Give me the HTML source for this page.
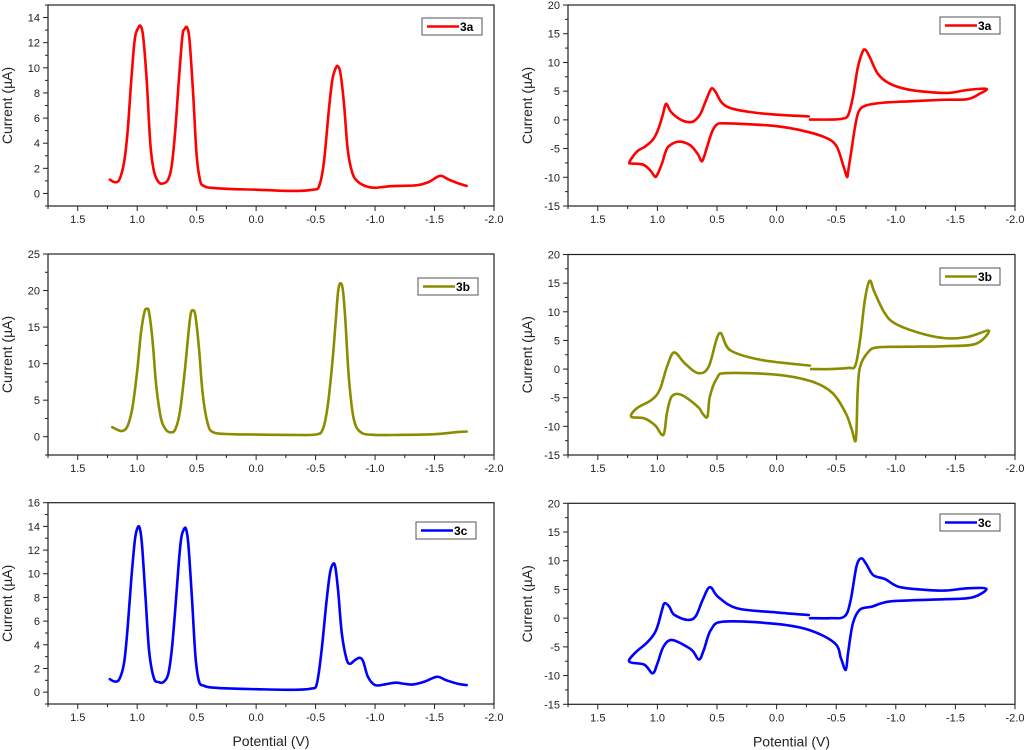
<!DOCTYPE html>
<html><head><meta charset="utf-8"><style>
html,body{margin:0;padding:0;background:#fff;}
svg{display:block;font-family:"Liberation Sans",sans-serif;}
</style></head><body>
<svg id="fig" width="1024" height="750" viewBox="0 0 1024 750"></svg>
<script>
// ---- data ----
const xTicks = [1.5,1.0,0.5,0.0,-0.5,-1.0,-1.5,-2.0];
const xTickLabels = ["1.5","1.0","0.5","0.0","-0.5","-1.0","-1.5","-2.0"];
const yTicksA = [0,2,4,6,8,10,12,14];
const yTicksB = [0,5,10,15,20,25];
const yTicksC = [0,2,4,6,8,10,12,14,16];
const yTicksCV = [-15,-10,-5,0,5,10,15,20];

const dpvA_x = [1.23,1.19,1.15,1.11,1.08,1.05,1.02,0.99,0.97,0.95,0.92,0.89,0.86,0.82,0.78,0.74,0.71,0.68,0.65,0.62,0.60,0.58,0.56,0.53,0.50,0.47,0.44,0.38,0.2,0,-0.3,-0.48,-0.53,-0.57,-0.61,-0.64,-0.67,-0.69,-0.71,-0.74,-0.77,-0.81,-0.86,-0.93,-1.0,-1.1,-1.2,-1.35,-1.45,-1.52,-1.56,-1.62,-1.7,-1.77];
const dpvA_y = [1.1,0.9,1.1,2.5,5,9,12.3,13.2,13.3,12.5,9,4,1.8,0.9,0.8,1.1,2.2,5,9,12.5,13.1,13.2,12.2,8,3,1.0,0.6,0.45,0.35,0.3,0.2,0.3,0.6,2.5,6.5,9,10,10.1,9.5,7,3.5,1.6,0.9,0.55,0.45,0.55,0.6,0.65,0.9,1.3,1.4,1.1,0.8,0.6];

const dpvB_x = [1.21,1.16,1.12,1.08,1.04,1.0,0.97,0.94,0.92,0.90,0.87,0.84,0.80,0.76,0.72,0.68,0.64,0.60,0.57,0.55,0.53,0.51,0.48,0.45,0.41,0.36,0.2,0,-0.3,-0.5,-0.56,-0.60,-0.64,-0.67,-0.69,-0.71,-0.73,-0.75,-0.78,-0.82,-0.88,-1.0,-1.2,-1.5,-1.7,-1.77];
const dpvB_y = [1.3,0.9,0.8,1.5,4,9,14,17,17.5,17,13,7,2.5,1.0,0.6,1.0,3.5,9,14,16.8,17.3,16.5,12,6,2,0.6,0.35,0.3,0.25,0.3,1,4,10,16,20,21,20,16,8,2.5,0.6,0.25,0.25,0.35,0.65,0.7];

const dpvC_x = [1.23,1.19,1.15,1.11,1.08,1.05,1.02,1.0,0.98,0.96,0.93,0.90,0.86,0.82,0.78,0.74,0.71,0.68,0.65,0.63,0.61,0.59,0.57,0.54,0.51,0.48,0.44,0.38,0.2,0,-0.3,-0.46,-0.51,-0.55,-0.59,-0.62,-0.645,-0.665,-0.69,-0.72,-0.76,-0.79,-0.83,-0.87,-0.9,-0.94,-1.0,-1.08,-1.17,-1.25,-1.32,-1.42,-1.52,-1.6,-1.7,-1.77];
const dpvC_y = [1.1,0.9,1.1,2.5,5.5,9.5,12.8,13.8,13.9,12.5,8,3.5,1.2,0.85,0.85,1.5,3.5,7,11,13,13.7,13.8,12.5,8,3,0.9,0.55,0.4,0.3,0.25,0.2,0.3,0.7,3.5,7.5,10,10.8,10.6,8.5,5,2.8,2.4,2.7,2.9,2.6,1.3,0.6,0.65,0.8,0.7,0.65,0.9,1.3,1.0,0.7,0.6];

const cvA_x = [-0.28,-0.45,-0.55,-0.6,-0.64,-0.68,-0.72,-0.745,-0.78,-0.85,-0.95,-1.1,-1.3,-1.45,-1.6,-1.76,-1.7,-1.6,-1.4,-1.1,-0.9,-0.75,-0.69,-0.66,-0.63,-0.6,-0.59,-0.56,-0.5,-0.4,-0.2,0,0.2,0.44,0.5,0.54,0.58,0.61,0.63,0.66,0.72,0.8,0.86,0.92,0.96,1.0,1.02,1.06,1.12,1.22,1.235,1.22,1.17,1.1,1.04,1.0,0.96,0.935,0.92,0.89,0.84,0.78,0.72,0.68,0.64,0.6,0.56,0.54,0.51,0.46,0.38,0.2,0,-0.27];
const cvA_y = [0.05,0.05,0.2,0.8,4,9,11.8,12.2,11,8,6.3,5.3,4.8,4.7,5.2,5.4,4.5,3.6,3.5,3.2,3.0,2.5,1.5,-1,-5,-9,-9.9,-8,-4.5,-3,-1.8,-1.1,-0.8,-0.6,-0.8,-2,-4.5,-6.5,-7.2,-6,-4.5,-3.8,-4,-5,-7.5,-9.5,-9.9,-8.8,-7.8,-7.6,-7.5,-6.8,-5.5,-4.6,-3.5,-2,0.5,2.5,2.7,1.5,0.5,-0.2,-0.4,0,1,3,5,5.5,4.8,3,2,1.3,0.9,0.6];

const cvB_x = [-0.29,-0.45,-0.6,-0.66,-0.70,-0.74,-0.78,-0.82,-0.9,-0.99,-1.2,-1.41,-1.6,-1.78,-1.67,-1.41,-1.1,-0.85,-0.77,-0.70,-0.68,-0.665,-0.63,-0.58,-0.47,-0.30,-0.01,0.42,0.50,0.56,0.58,0.62,0.66,0.80,0.88,0.92,0.95,1.02,1.11,1.22,1.17,1.05,0.98,0.92,0.86,0.77,0.66,0.57,0.48,0.39,0.13,-0.28];
const cvB_y = [0,0,0.2,0.6,5,12,15.4,13.5,10,8,6.3,5.4,5.6,6.7,4.4,4.0,3.9,3.8,3,0.4,-4,-12.3,-10.5,-7.7,-4.2,-2.2,-1.0,-0.7,-1.6,-4.8,-8.3,-7.8,-6.6,-4.5,-4.8,-7.7,-11.5,-9.8,-8.6,-8.3,-6.8,-5.4,-3.6,0.4,2.9,1.0,-0.7,0.4,6.25,3.3,1.6,0.6];

const cvC_x = [-0.28,-0.45,-0.57,-0.62,-0.67,-0.71,-0.75,-0.81,-0.91,-1.02,-1.2,-1.41,-1.6,-1.76,-1.64,-1.41,-1.0,-0.88,-0.80,-0.70,-0.64,-0.60,-0.58,-0.54,-0.49,-0.28,0.0,0.44,0.55,0.61,0.65,0.70,0.75,0.88,0.95,1.0,1.04,1.11,1.235,1.19,1.08,1.01,0.96,0.94,0.90,0.86,0.75,0.68,0.62,0.56,0.49,0.33,0.0,-0.27];
const cvC_y = [0,0,0.3,3,9,10.4,9.5,7.5,6.8,5.5,5.0,4.8,5.2,5.1,3.6,3.3,3.0,2.6,2.0,1.5,-0.9,-6,-9.0,-7,-4.4,-2.1,-1.0,-0.6,-2.0,-5.5,-7.2,-5.8,-5.0,-3.8,-5,-7.9,-9.6,-8.1,-7.6,-6.1,-4.1,-2.05,1.5,2.6,2.0,0.6,-0.3,0.3,3.2,5.4,3.7,1.7,1.0,0.55];

// ---- drawing ----
const NS = "http://www.w3.org/2000/svg";
const svg = document.getElementById('fig');
function mk(tag, attrs, parent){
  const e = document.createElementNS(NS, tag);
  for (const k in attrs) e.setAttribute(k, attrs[k]);
  (parent||svg).appendChild(e);
  return e;
}
function smoothPath(pts){
  let d = "M"+pts[0][0].toFixed(2)+","+pts[0][1].toFixed(2);
  for (let i=0;i<pts.length-1;i++){
    const p0=pts[Math.max(0,i-1)], p1=pts[i], p2=pts[i+1], p3=pts[Math.min(pts.length-1,i+2)];
    const t=6;
    const c1=[p1[0]+(p2[0]-p0[0])/t, p1[1]+(p2[1]-p0[1])/t];
    const c2=[p2[0]-(p3[0]-p1[0])/t, p2[1]-(p3[1]-p1[1])/t];
    d += "C"+c1[0].toFixed(2)+","+c1[1].toFixed(2)+" "+c2[0].toFixed(2)+","+c2[1].toFixed(2)+" "+p2[0].toFixed(2)+","+p2[1].toFixed(2);
  }
  return d;
}

const panels = [
  {id:'dpv-3a', x0:48, x1:494, y0:5, y1:206, ymin:-1, ymax:15, yt:yTicksA, minor:1, xs:dpvA_x, ys:dpvA_y, color:'#ff0000', label:'3a', lg:[422,18], xlab:false},
  {id:'cv-3a', x0:568, x1:1015, y0:5, y1:206, ymin:-15, ymax:20, yt:yTicksCV, minor:2.5, xs:cvA_x, ys:cvA_y, color:'#ff0000', label:'3a', lg:[940,17], xlab:false},
  {id:'dpv-3b', x0:48, x1:494, y0:254, y1:455, ymin:-2.5, ymax:25, yt:yTicksB, minor:2.5, xs:dpvB_x, ys:dpvB_y, color:'#8c8c00', label:'3b', lg:[418,278], xlab:false},
  {id:'cv-3b', x0:568, x1:1015, y0:254.5, y1:455, ymin:-15, ymax:20, yt:yTicksCV, minor:2.5, xs:cvB_x, ys:cvB_y, color:'#8c8c00', label:'3b', lg:[940,268], xlab:false},
  {id:'dpv-3c', x0:48, x1:494, y0:502.7, y1:704, ymin:-1, ymax:16, yt:yTicksC, minor:1, xs:dpvC_x, ys:dpvC_y, color:'#0000ff', label:'3c', lg:[416,522], xlab:true},
  {id:'cv-3c', x0:568, x1:1015, y0:503.3, y1:704.3, ymin:-15, ymax:20, yt:yTicksCV, minor:2.5, xs:cvC_x, ys:cvC_y, color:'#0000ff', label:'3c', lg:[940,514], xlab:true}
];

panels.forEach(p=>{
  const g = mk('g',{});
  
  
  const sx = v => p.x0 + (1.75 - v)/3.75*(p.x1-p.x0);
  const sy = v => p.y1 - (v - p.ymin)/(p.ymax-p.ymin)*(p.y1-p.y0);
  const frame = mk('rect',{x:p.x0,y:p.y0,width:p.x1-p.x0,height:p.y1-p.y0,fill:'none',stroke:'#222','stroke-width':1.2},g);
  
  
  // x ticks
  for (let v=1.75; v>=-2.0001; v-=0.25){
    const isMajor = Math.abs(v*2-Math.round(v*2))<1e-6;
    mk('line',{x1:sx(v),x2:sx(v),y1:p.y1,y2:p.y1+(isMajor?5:3),stroke:'#222','stroke-width':1},g);
  }
  xTicks.forEach((v,i)=>{
    const t = mk('text',{x:sx(v),y:p.y1+17,'text-anchor':'middle','font-size':11,fill:'#222'},g);
    t.textContent = xTickLabels[i];
    
    
  });
  // y ticks
  for (let v=p.ymin; v<=p.ymax+1e-6; v+=p.minor){
    const isMajor = p.yt.some(t=>Math.abs(t-v)<1e-6);
    mk('line',{x1:p.x0-(isMajor?5:3),x2:p.x0,y1:sy(v),y2:sy(v),stroke:'#222','stroke-width':1},g);
  }
  p.yt.forEach(v=>{
    const t = mk('text',{x:p.x0-8,y:sy(v)+4,'text-anchor':'end','font-size':11,fill:'#222'},g);
    t.textContent = String(v);
    
    
  });
  // y title
  const cy = (p.y0+p.y1)/2;
  const yt = mk('text',{x:p.x0-36,y:cy,'text-anchor':'middle','font-size':14,fill:'#222',transform:'rotate(-90 '+(p.x0-36)+' '+cy+')'},g);
  yt.textContent = 'Current (\u00b5A)';
  
  
  if (p.xlab){
    const xt = mk('text',{x:(p.x0+p.x1)/2,y:p.y1+42,'text-anchor':'middle','font-size':14,fill:'#222'},g);
    xt.textContent = 'Potential (V)';
    
    
  }
  // curve
  const pts = p.xs.map((x,i)=>[sx(x), sy(p.ys[i])]);
  const path = mk('path',{d:smoothPath(pts),fill:'none',stroke:p.color,'stroke-width':2.6,'stroke-linejoin':'round','stroke-linecap':'round'},g);
  
  
  // legend
  const lg = mk('g',{},g);
  
  
  mk('rect',{x:p.lg[0],y:p.lg[1],width:60,height:17,fill:'#fff',stroke:'#555','stroke-width':1},lg);
  mk('line',{x1:p.lg[0]+5,x2:p.lg[0]+37,y1:p.lg[1]+8.5,y2:p.lg[1]+8.5,stroke:p.color,'stroke-width':2.6},lg);
  const lt = mk('text',{x:p.lg[0]+38,y:p.lg[1]+13,'font-size':12,'font-weight':'bold',fill:'#000'},lg);
  lt.textContent = p.label;
  
  
});
</script>
</body></html>
